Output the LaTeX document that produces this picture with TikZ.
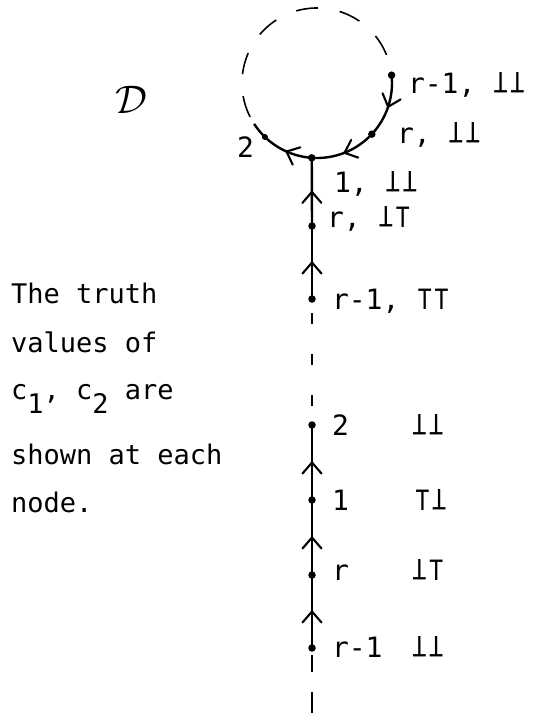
\documentclass[tikz,border=0pt]{standalone}
\usepackage{fontspec}
\usepackage{graphicx}
\setmonofont{DejaVu Sans Mono}
\usetikzlibrary{decorations.markings}
\newcommand\fls{\makebox[0.602em]{\scalebox{0.82}[1]{\rotatebox[origin=c]{180}{T}}}}
\newcommand\tru{\makebox[0.602em]{\scalebox{0.82}[1]{T}}}
\tikzset{
  every node/.style={font=\ttfamily\fontsize{28}{30}\selectfont, inner sep=0pt, outer sep=0pt},
  txt/.style={font=\ttfamily\fontsize{27}{30}\selectfont, anchor=base west},
  dot/.style={circle, fill=black, minimum size=7.5pt, inner sep=0pt},
  lbl/.style={anchor=base west},
  ln/.style={line width=2.4pt},
  midarrow/.style={postaction={decorate}, decoration={markings,
     mark=at position 0.5 with {\draw[line width=2.1pt, line cap=round, line join=miter] (-11pt,9.5pt) -- (0,0) -- (-11pt,-9.5pt);}}},
}
\begin{document}
\begin{tikzpicture}[x=1pt,y=1pt]
\useasboundingbox (0,0) rectangle (538,-713);
\fill[white] (0,0) rectangle (538,-713);
% circle
\coordinate (cc) at (317,-83);
\node[dot] (crm1) at ([shift={(6:75pt)}]cc) {};
\node[dot] (cr) at ([shift={(-43:75pt)}]cc) {};
\node[dot] (n1) at ([shift={(-94:75pt)}]cc) {};
\node[dot, minimum size=6pt] (c2) at ([shift={(-134:75pt)}]cc) {};
\coordinate (cend) at ([shift={(-147:75pt)}]cc);
\draw[ln, midarrow] (crm1.center) arc[start angle=6, end angle=-43, radius=75pt];
\draw[ln, midarrow] (cr.center) arc[start angle=-43, end angle=-94, radius=75pt];
\draw[ln, midarrow] (n1.center) arc[start angle=-94, end angle=-134, radius=75pt];
\draw[ln] (c2.center) arc[start angle=-134, end angle=-147, radius=75pt];
\draw[line width=1.6pt, dash pattern=on 0pt off 8pt on 22pt off 14pt] (cend) arc[start angle=213, end angle=6, radius=75pt];
% vertical chain
\node[dot] (vr) at (312,-226) {};
\node[dot] (vrm1) at (312,-299) {};
\node[dot] (v2) at (312,-425) {};
\node[dot] (v1) at (312,-500) {};
\node[dot] (vrr) at (312,-575) {};
\node[dot] (vrm1b) at (312,-648) {};
\coordinate (vend) at (312,-713);
\draw[ln, midarrow] (vr.center) -- (n1.center);
\draw[ln, midarrow] (vrm1.center) -- (vr.center);
\draw[ln, dash pattern=on 0pt off 14pt on 11pt off 16pt] (vrm1.center) -- (v2.center);
\draw[ln, midarrow] (v1.center) -- (v2.center);
\draw[ln, midarrow] (vrr.center) -- (v1.center);
\draw[ln, midarrow] (vrm1b.center) -- (vrr.center);
\draw[ln, dash pattern=on 0pt off 7pt on 17pt off 20pt on 22pt off 10pt] (vrm1b.center) -- (vend);
% labels on circle
\node[lbl] (lcrm1) at (408,-93) {r-1, \fls\fls};
\node[lbl] (lcr) at (397,-143) {r, \fls\fls};
\node[lbl] (lc2) at (237,-157) {2};
\node[lbl] (ln1) at (334,-192) {1, \fls\fls};
% labels on vertical chain
\node[lbl] (lvr) at (327,-227) {r, \fls\tru};
\node[lbl] (lvrm1) at (332,-309) {r-1, \tru\tru};
\node[lbl] (lv2a) at (332,-435) {2};
\node[lbl] (lv2b) at (411,-435) {\fls\fls};
\node[lbl] (lv1a) at (332,-510) {1};
\node[lbl] (lv1b) at (414,-510) {\tru\fls};
\node[lbl] (lvra) at (332,-580) {r};
\node[lbl] (lvrb) at (411,-580) {\fls\tru};
\node[lbl] (lvm1a) at (332,-657) {r-1};
\node[lbl] (lvm1b) at (411,-657) {\fls\fls};
% D
\node (dlab) at (131,-100) {\scalebox{1.6}{$\mathcal{D}$}};
% explanation text
\node[txt] (t1) at (11,-303) {The truth};
\node[txt] (t2) at (11,-352) {values of};
\node[txt] (t3) at (11,-399) {c\raisebox{-14pt}{\fontsize{27}{27}\selectfont 1}, c\raisebox{-14pt}{\fontsize{27}{27}\selectfont 2} are};
\node[txt] (t4) at (11,-464) {shown at each};
\node[txt] (t5) at (11,-512) {node.};
\end{tikzpicture}
\end{document}
